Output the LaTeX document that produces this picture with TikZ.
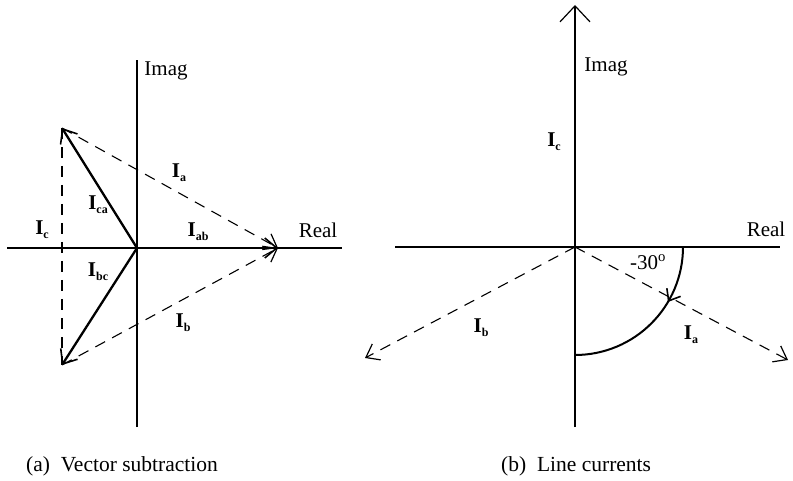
\documentclass[tikz,border=0pt]{standalone}
\usepackage{fontspec}
\setmainfont{Liberation Serif}
\usetikzlibrary{arrows.meta,decorations.markings}
\newcommand\cur[1]{\textbf{I}\raisebox{-4pt}{\fontsize{12}{13}\selectfont\textbf{#1}}}
\tikzset{
  axis/.style={line width=1.7pt},
  vec/.style={line width=2.3pt,-{Straight Barb[length=12pt,width=20pt,line width=1.6pt]}},
  dvec/.style={line width=1.1pt,dash pattern=on 11pt off 8pt,-{Straight Barb[length=12pt,width=18pt,line width=1.2pt]}},
  dline/.style={line width=1.1pt,dash pattern=on 11pt off 8pt},
  lbl/.style={font=\fontsize{21}{24}\selectfont,inner sep=1pt},
  captxt/.style={font=\fontsize{21.5}{24}\selectfont,inner sep=0pt,anchor=west},
}
\begin{document}
\begin{tikzpicture}[x=1pt,y=-1pt]
\useasboundingbox (0,0) rectangle (793,481);
% ---------- (a) ----------
\coordinate (O1) at (137,248);
\coordinate (V1t) at (137,60);
\coordinate (V1b) at (137,427);
\coordinate (H1l) at (7,248);
\coordinate (H1r) at (342,248);
\coordinate (CA) at (62,128);
\coordinate (BC) at (62,365);
\coordinate (AB) at (278,248);
\draw[axis] (V1b) -- (V1t);
\draw[axis] (H1l) -- (H1r);
\draw[dline] (CA) -- (BC);
\draw[dvec] (CA) -- (AB);
\draw[dvec] (BC) -- (AB);
\draw[vec] (O1) -- (CA);
\draw[vec] (O1) -- (BC);
\draw[vec] (O1) -- (AB);
\node[lbl] (imagA) at (166,71) {Imag};
\node[lbl] (realA) at (318,230) {Real};
\node[lbl] (Ia1) at (179,173) {\cur{a}};
\node[lbl] (Ica) at (98,205) {\cur{ca}};
\node[lbl] (Ic1) at (42,230) {\cur{c}};
\node[lbl] (Iab) at (198,232) {\cur{ab}};
\node[lbl] (Ibc) at (98,272) {\cur{bc}};
\node[lbl] (Ib1) at (183,323) {\cur{b}};
\node[captxt] (capA) at (26,466) {(a)\ \ Vector subtraction};
% ---------- (b) ----------
\coordinate (O2) at (575,247);
\coordinate (V2t) at (575,5);
\coordinate (V2b) at (575,427);
\coordinate (H2l) at (395,247);
\coordinate (H2r) at (780,247);
\coordinate (A2) at (788,360);
\coordinate (B2) at (365,358);
\coordinate (R0) at (683,247);
\draw[axis] (V2b) -- (O2);
\draw[line width=1.7pt,-{Straight Barb[length=16pt,width=30pt,line width=1.2pt]}] (O2) -- (V2t);
\draw[axis] (H2l) -- (H2r);
\draw[dvec] (O2) -- (A2);
\draw[dvec] (O2) -- (B2);
\draw[line width=2pt,postaction={decorate},decoration={markings,mark=at position 0.34 with {\arrow{Straight Barb[length=10pt,width=16pt,line width=1.6pt]}}}]
  (R0) arc[start angle=0,end angle=-90,radius=108pt];
\node[lbl] (imagB) at (606,67) {Imag};
\node[lbl] (realB) at (766,229) {Real};
\node[lbl] (Ic2) at (554,142) {\cur{c}};
\node[lbl] (ang) at (648,262) {-30\textsuperscript{o}};
\node[lbl] (Ib2) at (481,328) {\cur{b}};
\node[lbl] (Ia2) at (691,335) {\cur{a}};
\node[captxt] (capB) at (501,466) {(b)\ \ Line currents};
\end{tikzpicture}
\end{document}
